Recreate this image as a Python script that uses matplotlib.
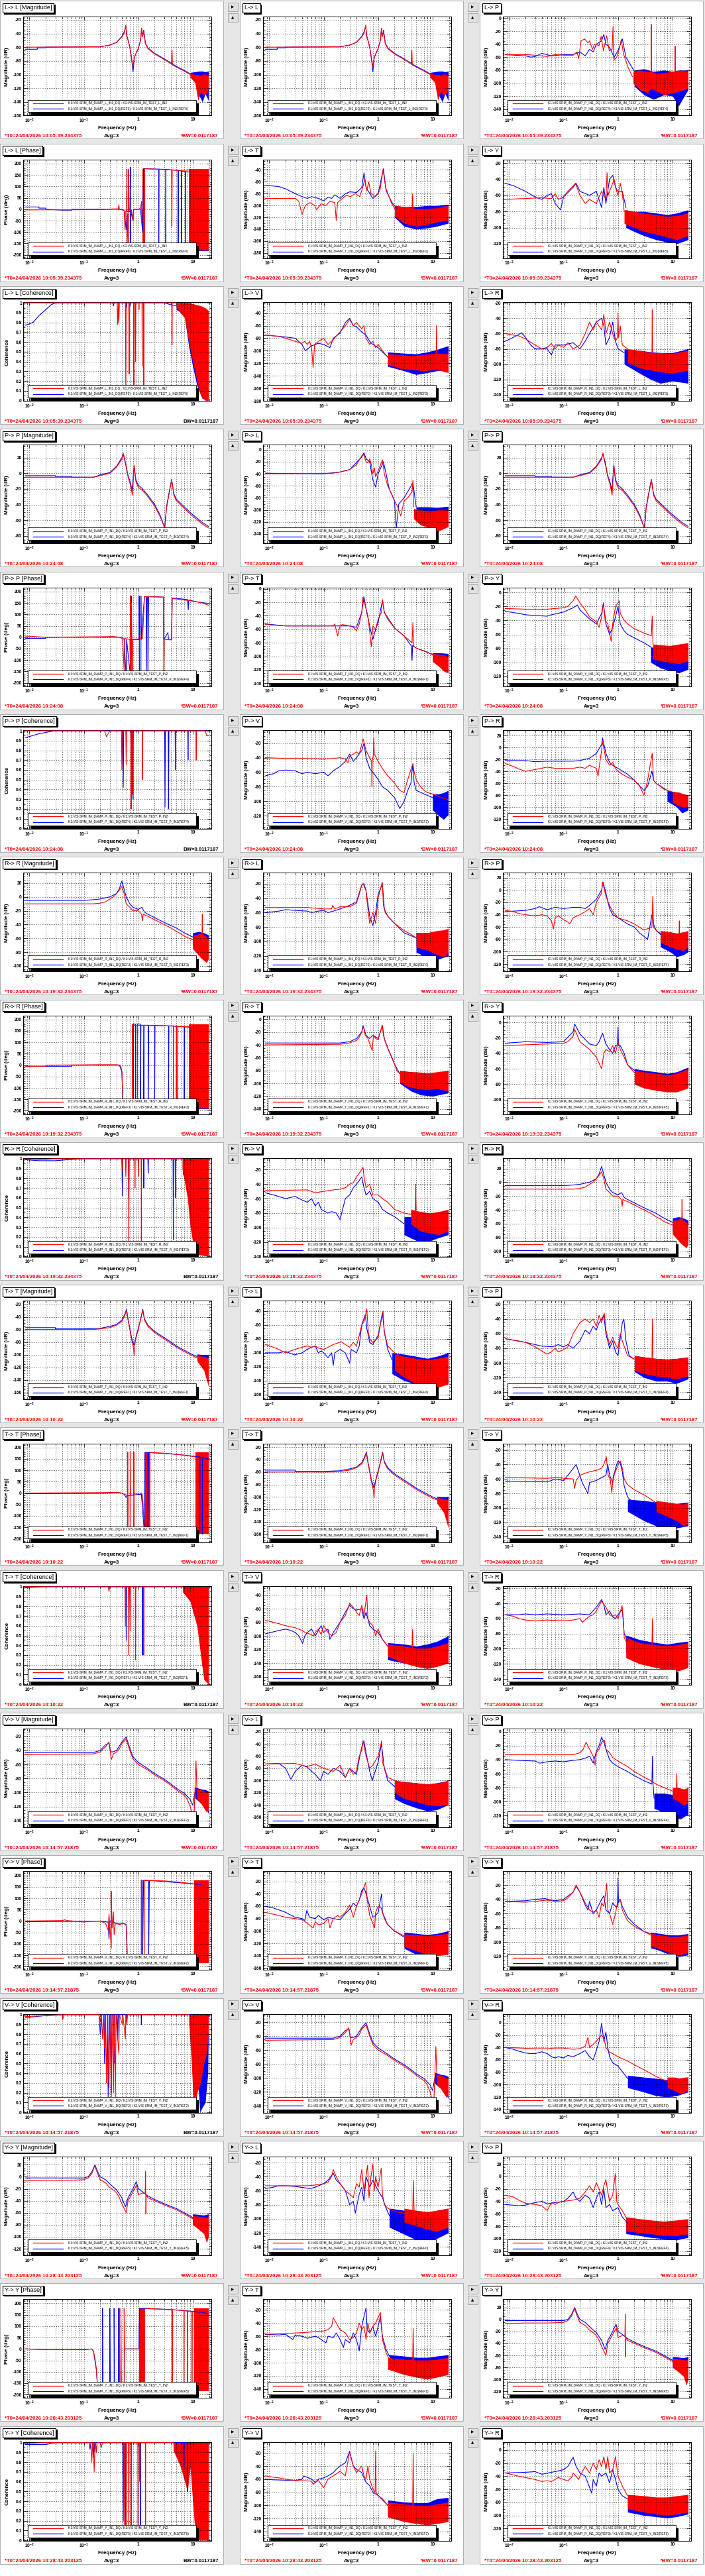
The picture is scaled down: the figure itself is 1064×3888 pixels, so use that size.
import matplotlib
matplotlib.use("Agg")
import matplotlib.pyplot as plt
from matplotlib.patches import Rectangle
from matplotlib.ticker import FixedLocator, FixedFormatter, AutoMinorLocator, NullFormatter
import numpy as np

plt.rcParams["font.family"] = ["Liberation Sans", "DejaVu Sans"]
plt.rcParams["mathtext.fontset"] = "custom"
plt.rcParams["mathtext.rm"] = "Liberation Sans"
plt.rcParams["mathtext.bf"] = "Liberation Sans:bold"

# ---------------------------------------------------------------- data
# each curve: (frequency Hz, value); None breaks a line
# *_RN / *_BN: noisy part drawn as band (frequency, low, high)

# L excitation
LL_MAG_R = [(0.0085,-60),(0.2,-59.5),(0.3,-57),(0.4,-53),(0.5,-45),(0.55,-40),(0.59,-28),(0.62,-45),(0.65,-50),(0.7,-60),(0.75,-75),(0.8,-88),(0.85,-75),(0.9,-70),(1.0,-62),(1.1,-50),(1.15,-32),(1.2,-45),(1.26,-37),(1.35,-55),(1.5,-62),(2,-70),(3,-78),(4.1,-85),(4.17,-64),(4.25,-86),(5,-89),(7,-95),(9,-100)]
LL_MAG_RN = [(9,-104,-98),(11,-112,-100),(12.5,-138,-100),(14,-125,-101),(16,-130,-99),(18,-128,-100),(19.4,-120,-100)]
LL_MAG_B = [(0.0085,-63),(0.014,-63),(0.014,-61),(0.02,-61),(0.02,-60),(0.2,-59.5),(0.3,-57),(0.4,-53),(0.5,-44),(0.55,-38),(0.59,-30),(0.62,-44),(0.65,-50),(0.7,-60),(0.75,-75),(0.8,-96),(0.85,-75),(0.9,-70),(1.0,-62),(1.1,-50),(1.15,-34),(1.2,-44),(1.26,-35),(1.35,-54),(1.5,-61),(2,-69),(3,-77),(4.1,-84),(5,-88),(7,-94),(9,-99)]
LL_MAG_BN = [(9,-104,-97),(11,-110,-96),(13,-130,-95),(15,-140,-95),(17,-128,-96),(19.4,-138,-95)]

LL_PH_R = [(0.0085,-3),(0.2,-2),(0.3,1),(0.43,2),(0.44,20),(0.45,0),(0.55,-5),(0.57,-90),(0.58,-10),(0.61,-10),(0.62,175),(0.62,-200),(0.64,-20),(0.66,-200),(0.66,175),(0.67,-10),(0.75,-5),(0.8,-50),(0.82,0),(1.0,0),(1.1,5),(1.15,35),(1.16,-60),(1.19,0),None,(1.33,178),(2,176),(4.1,172),(4.15,-75),(4.2,172),(6,170),(8.5,172)]
LL_PH_RN = [(1.19,-180,178),(1.33,-180,178),None,(8.5,-180,178),(19.4,-180,178)]
LL_PH_B = [(0.0085,10),(0.015,10),(0.015,5),(0.02,5),(0.02,0),(0.04,-4),(0.06,-4),(0.06,0),(0.5,0),(0.55,-5),(0.6,-90),(0.62,-10),(0.7,-10),(0.72,185),(0.72,-200),(0.73,-10),(0.8,-50),(0.82,0),(1.1,0),(1.2,-100),(1.25,178),(2.38,176),(2.38,-180),(2.4,176),(3.2,175),(3.2,-180),(3.22,175),(5.4,170),(5.4,-180),(5.45,170),(6.2,168),(6.2,-180),(6.25,168),(7.3,165),(7.3,-180),(7.35,165),(8.5,163)]
LL_PH_BN = [(8.5,-185,178),(19.4,-185,178)]

LL_COH_R = [(0.0085,1),(0.41,1),(0.42,0.78),(0.43,1),(0.44,0.8),(0.45,1),(0.58,1),(0.59,0.1),(0.6,1),(0.67,1),(0.68,0.27),(0.69,1),(0.82,1),(0.83,0.15),(0.84,1),(0.88,1),(0.89,0.4),(0.9,1),(1.02,1),(1.03,0.93),(1.04,1),(1.17,1),(1.18,0.35),(1.19,1),(1.25,1),(1.26,0.15),(1.27,1),(4.15,1),(4.17,0.57),(4.2,1),(5,1)]
LL_COH_RN = [(5,0.95,1),(7,0.85,1),(8.5,0.6,1),(10,0.4,0.99),(12,0.2,0.98),(14,0.05,0.97),(17,0.0,0.95),(19.4,0.0,0.92)]
LL_COH_B = [(0.0085,0.77),(0.0117,0.8),(0.015,0.87),(0.02,0.93),(0.025,0.98),(0.03,1),(0.34,1),(0.35,0.97),(0.36,1),(0.6,1),(0.61,0.95),(0.62,1),(0.7,1),(0.71,0.97),(0.72,1),(3,1),(4,0.98),(5,0.97)]
LL_COH_BN = [(5,0.93,1),(7,0.88,1),(8.5,0.55,1),(10,0.35,0.99),(12,0.15,0.97),(15,0.02,0.95),(19.4,0.0,0.9)]

LP_R = [(0.0085,-56),(0.02,-56),(0.03,-57),(0.05,-59),(0.07,-56),(0.1,-57),(0.15,-57),(0.176,-52),(0.19,-62),(0.21,-35),(0.245,-32),(0.28,-38),(0.3,-35),(0.34,-48),(0.37,-40),(0.45,-42),(0.49,-28),(0.54,-50),(0.62,-27),(0.69,-50),(0.78,-48),(0.81,-13),(0.83,-55),(0.85,-64),(0.95,-60),(1.05,-48),(1.15,-33),(1.26,-55),(1.52,-75),(1.84,-90),None,(4.05,-95),(4.1,-10),(4.15,-95),None,(11.1,-95),(11.2,-43),(11.3,-95)]
LP_RN = [(1.9,-100,-82),(2.5,-110,-80),(3.5,-115,-82),(4.1,-108,-82),(5,-112,-85),(7,-118,-84),(10,-115,-82),(14,-112,-80),(19.4,-108,-82)]
LP_B = [(0.0085,-56),(0.02,-58),(0.025,-60),(0.03,-59),(0.04,-54),(0.06,-58),(0.1,-56),(0.15,-56),(0.2,-52),(0.25,-58),(0.3,-48),(0.35,-52),(0.4,-40),(0.5,-35),(0.55,-25),(0.6,-40),(0.7,-45),(0.85,-60),(1.0,-50),(1.2,-32),(1.4,-60),(2,-82)]
LP_BN = [(2,-105,-80),(3,-118,-78),(4.5,-125,-82),(7,-118,-80),(10,-120,-82),(13,-135,-80),(19.4,-110,-80)]

LT_R = [(0.0085,-88),(0.03,-88),(0.035,-93),(0.04,-115),(0.046,-100),(0.056,-95),(0.068,-100),(0.074,-107),(0.09,-97),(0.11,-100),(0.13,-93),(0.16,-95),(0.17,-125),(0.18,-95),(0.19,-93),(0.26,-83),(0.31,-85),(0.38,-80),(0.46,-85),(0.52,-70),(0.57,-55),(0.62,-75),(0.67,-60),(0.74,-80),(0.89,-85),(1.08,-75),(1.23,-40),(1.38,-70),(1.74,-95),(2.1,-108),None,(4.2,-112),(4.3,-80),(4.4,-112)]
LT_RN = [(2,-118,-100),(3,-130,-102),(5,-135,-105),(8,-132,-105),(12,-128,-104),(19.4,-125,-100)]
LT_B = [(0.0085,-66),(0.015,-68),(0.02,-72),(0.03,-80),(0.04,-85),(0.05,-88),(0.06,-85),(0.08,-88),(0.1,-92),(0.12,-86),(0.14,-88),(0.16,-82),(0.2,-88),(0.25,-80),(0.3,-77),(0.4,-78),(0.5,-70),(0.55,-45),(0.6,-70),(0.8,-88),(1.0,-80),(1.25,-38),(1.4,-75),(1.8,-95),(2.2,-105)]
LT_BN = [(2,-120,-100),(3,-135,-102),(5,-140,-102),(8,-138,-100),(12,-135,-100),(19.4,-130,-98)]

LY_R = [(0.0085,-65),(0.04,-63),(0.06,-64),(0.07,-58),(0.08,-65),(0.1,-62),(0.12,-55),(0.166,-45),(0.2,-60),(0.25,-70),(0.3,-65),(0.4,-70),(0.5,-55),(0.6,-65),(0.63,-32),(0.66,-60),(0.7,-55),(0.8,-45),(0.85,-40),(0.9,-50),(1.0,-60),(1.1,-45),(1.2,-57),(1.3,-80)]
LY_RN = [(1.3,-95,-78),(2,-100,-80),(3,-105,-82),(5,-108,-84),(8,-112,-86),(12,-115,-85),(19.4,-110,-82)]
LY_B = [(0.0085,-45),(0.012,-48),(0.02,-55),(0.03,-62),(0.04,-65),(0.05,-60),(0.06,-58),(0.07,-70),(0.088,-78),(0.1,-62),(0.15,-50),(0.17,-45),(0.2,-55),(0.3,-60),(0.4,-55),(0.5,-75),(0.55,-50),(0.6,-70),(0.7,-40),(0.8,-35),(0.9,-50),(1.0,-55),(1.2,-55),(1.4,-75)]
LY_BN = [(1.4,-100,-78),(2,-105,-80),(3,-110,-80),(5,-115,-82),(8,-118,-84),(12,-120,-82),(19.4,-115,-78)]

LV_R = [(0.0085,-75),(0.015,-77),(0.02,-80),(0.03,-85),(0.04,-88),(0.045,-85),(0.05,-90),(0.055,-85),(0.06,-95),(0.064,-127),(0.068,-90),(0.08,-85),(0.1,-80),(0.12,-90),(0.15,-82),(0.2,-70),(0.25,-60),(0.3,-50),(0.35,-60),(0.4,-55),(0.5,-65),(0.55,-60),(0.6,-80),(0.7,-90),(0.8,-85),(0.9,-95),(1.0,-90),(1.2,-100),(1.5,-110),None,(11.6,-115),(11.8,-60),(12,-115)]
LV_RN = [(1.5,-122,-105),(2.5,-128,-106),(4,-130,-108),(7,-132,-106),(12,-130,-104),(19.4,-135,-105)]
LV_B = [(0.0085,-75),(0.015,-77),(0.02,-78),(0.03,-80),(0.04,-90),(0.046,-100),(0.06,-92),(0.07,-90),(0.08,-88),(0.1,-90),(0.13,-95),(0.15,-80),(0.2,-72),(0.25,-55),(0.3,-48),(0.35,-60),(0.4,-62),(0.5,-70),(0.6,-75),(0.7,-85),(0.8,-90),(1.0,-95),(1.3,-105),(1.5,-110)]
LV_BN = [(1.5,-125,-102),(3,-132,-104),(5,-138,-105),(8,-135,-102),(12,-132,-98),(19.4,-130,-92)]

LR_R = [(0.0085,-60),(0.012,-62),(0.015,-63),(0.02,-67),(0.03,-75),(0.04,-80),(0.05,-78),(0.06,-73),(0.07,-80),(0.08,-75),(0.1,-78),(0.12,-72),(0.15,-80),(0.2,-75),(0.25,-60),(0.3,-45),(0.35,-55),(0.4,-45),(0.5,-55),(0.55,-35),(0.6,-60),(0.7,-45),(0.8,-60),(0.9,-70),(0.98,-65),(1.0,-33),(1.02,-65),(1.1,-50),(1.2,-75),(1.5,-80),None,(4.2,-95),(4.26,-29),(4.32,-95)]
LR_RN = [(1.5,-98,-80),(2.5,-105,-82),(4,-108,-85),(6,-110,-85),(10,-112,-86),(19.4,-108,-82)]
LR_B = [(0.0085,-70),(0.012,-65),(0.017,-59),(0.02,-65),(0.025,-75),(0.03,-80),(0.05,-80),(0.06,-88),(0.07,-75),(0.1,-75),(0.15,-72),(0.2,-80),(0.25,-70),(0.3,-60),(0.4,-45),(0.5,-40),(0.55,-50),(0.6,-75),(0.7,-65),(0.8,-45),(0.9,-70),(1.0,-80),(1.3,-85)]
LR_BN = [(1.3,-100,-80),(2.5,-112,-82),(4,-120,-84),(6,-125,-85),(10,-122,-85),(19.4,-125,-80)]

# P excitation
PP_MAG_R = [(0.0085,-5),(0.15,-5),(0.2,-3),(0.3,0),(0.4,8),(0.5,18),(0.53,26),(0.6,10),(0.65,-5),(0.72,-15),(0.78,-28),(0.84,10),(0.9,-10),(1.0,-18),(1.2,-22),(1.5,-30),(2,-42),(2.5,-55),(3.07,-70),(3.3,-45),(3.6,-30),(4.1,-8),(4.5,-28),(5,-35),(7,-45),(10,-55),(15,-65),(19.4,-70)]
PP_MAG_B = [(0.0085,-3),(0.03,-3),(0.03,-4),(0.06,-4),(0.06,-5),(0.15,-5),(0.2,-2),(0.3,1),(0.4,9),(0.5,20),(0.53,25),(0.6,8),(0.65,-3),(0.72,-12),(0.77,-22),(0.84,10),(0.9,-8),(1.0,-15),(1.2,-20),(1.5,-28),(2,-40),(2.5,-53),(3.05,-70),(3.3,-43),(3.6,-28),(4.1,-8),(4.5,-26),(5,-33),(7,-43),(10,-53),(15,-63),(19.4,-68)]

PL_R = [(0.0085,-40),(0.15,-39),(0.2,-37),(0.3,-33),(0.4,-25),(0.5,-10),(0.54,-8),(0.6,-20),(0.65,-22),(0.7,-15),(0.75,-25),(0.8,-40),(0.85,-30),(0.9,-45),(1.0,-35),(1.2,-17),(1.3,-40),(1.5,-60),(1.8,-75),(2,-85),(2.3,-95),(2.6,-110),(3,-85),(3.5,-80),(4.2,-70),(4.35,-51),(4.5,-95)]
PL_RN = [(4.5,-115,-98),(6,-125,-100),(9,-130,-102),(13,-135,-100),(19.4,-128,-100)]
PL_B = [(0.0085,-39),(0.1,-40),(0.2,-37),(0.3,-33),(0.5,-12),(0.55,-5),(0.6,-15),(0.7,-20),(0.8,-50),(0.9,-62),(1.0,-40),(1.25,-20),(1.4,-40),(1.6,-65),(2,-85),(2.15,-130),(2.4,-90),(3,-80),(4.35,-55),(5,-95)]
PL_BN = [(5,-108,-95),(8,-112,-95),(12,-115,-96),(19.4,-112,-94)]

PP_PH_R = [(0.0085,5),(0.012,3),(0.02,0),(0.2,2),(0.35,3),(0.45,0),(0.5,-5),(0.52,-20),(0.55,-150),(0.56,-5),(0.7,-10),(0.72,-200),(0.72,180),(0.74,-200),(0.75,150),(0.76,-10),(0.78,-200),(0.79,-10),(1.2,-5),(1.3,178),(2.9,176),(2.95,-200),(3.0,-10),(4.1,-12),(4.2,170),(6,165),(10,158),(15,150),(19.4,140)]
PP_PH_B = [(0.0085,-5),(0.02,-5),(0.02,0),(0.5,0),(0.55,-10),(0.6,-180),(0.61,-10),(0.74,-200),(0.74,180),(0.76,-10),(1.04,-10),(1.04,180),(1.05,-180),(1.12,-180),(1.12,180),(1.13,-10),(1.3,178),(1.4,178),(1.4,-180),(1.45,178),(1.5,178),(1.5,-180),(1.55,178),(2.9,176),(2.95,-10),(3.5,20),(3.6,-10),(4.1,-10),(4.2,172),(8,165),(8.3,120),(8.4,163),(12,155),(19.4,148)]

PT_R = [(0.0085,-53),(0.02,-55),(0.15,-55),(0.16,-52),(0.18,-70),(0.2,-55),(0.22,-53),(0.3,-55),(0.35,-57),(0.4,-62),(0.45,-52),(0.5,-35),(0.53,-12),(0.6,-30),(0.65,-40),(0.75,-86),(0.8,-55),(0.9,-60),(1.0,-45),(1.15,-35),(1.2,-16),(1.3,-35),(1.5,-45),(2,-58),(3,-70),(4.2,-80),(4.35,-50),(4.5,-85),(5,-88),(7,-92),(10,-98)]
PT_RN = [(10,-108,-96),(13,-115,-97),(16,-122,-98),(19.4,-125,-100)]
PT_B = [(0.0085,-52),(0.02,-55),(0.3,-55),(0.4,-57),(0.5,-35),(0.55,-12),(0.6,-30),(0.7,-55),(0.8,-75),(0.9,-60),(1.0,-50),(1.2,-17),(1.3,-35),(2,-58),(3,-70),(4.1,-85),(4.2,-106),(4.3,-84),(5,-88),(10,-97)]
PT_BN = [(10,-105,-95),(14,-112,-95),(19.4,-118,-96)]

PY_R = [(0.0085,-23),(0.02,-24),(0.05,-24),(0.1,-22),(0.12,-20),(0.15,-12),(0.167,-5),(0.2,-15),(0.25,-25),(0.3,-35),(0.4,-42),(0.45,-50),(0.5,-35),(0.54,-15),(0.58,-40),(0.65,-45),(0.75,-70),(0.8,-45),(0.9,-20),(1.06,-12),(1.1,-30),(1.3,-40),(1.5,-45),(2,-52),(3,-58),(4.1,-62),(4.25,-34),(4.4,-75)]
PY_RN = [(4.4,-95,-74),(6,-98,-75),(9,-100,-76),(13,-102,-74),(19.4,-98,-72)]
PY_B = [(0.0085,-27),(0.015,-30),(0.02,-32),(0.03,-33),(0.05,-34),(0.06,-32),(0.1,-28),(0.15,-22),(0.18,-18),(0.2,-25),(0.3,-38),(0.4,-45),(0.5,-30),(0.54,-15),(0.6,-45),(0.7,-60),(0.8,-50),(0.9,-35),(1.0,-20),(1.1,-45),(1.3,-55),(1.5,-60),(2,-65),(3,-72),(4,-78)]
PY_BN = [(4,-100,-78),(6,-108,-80),(9,-112,-82),(13,-115,-80),(19.4,-110,-78)]

PP_COH_R = [(0.0085,1),(0.24,1),(0.26,0.94),(0.28,0.97),(0.3,1),(0.49,1),(0.5,0.6),(0.51,1),(0.59,1),(0.6,0.65),(0.61,1),(0.73,1),(0.74,0.2),(0.75,1),(0.77,1),(0.78,0.35),(0.79,1),(1.18,1),(1.19,0.5),(1.2,1),(11.5,1),(11.6,0.7),(11.7,1),(17,1),(18,0.95),(19.4,0.95)]
PP_COH_B = [(0.0085,0.93),(0.015,0.97),(0.029,1),(0.52,1),(0.53,0.42),(0.54,1),(0.73,1),(0.74,0.22),(0.75,1),(0.79,1),(0.8,0.3),(0.81,1),(3.05,1),(3.1,0.22),(3.15,1),(3.55,1),(3.6,0.2),(3.65,1),(4.75,1),(4.8,0.6),(4.85,1),(8.1,1),(8.2,0.7),(8.3,1),(19.4,1)]

PV_R = [(0.0085,-40),(0.02,-41),(0.05,-41),(0.1,-42),(0.15,-41),(0.2,-40),(0.25,-42),(0.28,-47),(0.3,-38),(0.35,-35),(0.4,-32),(0.45,-35),(0.53,-14),(0.6,-30),(0.7,-40),(0.76,-45),(0.77,-79),(0.78,-45),(0.82,-35),(0.83,-13),(0.85,-35),(1.0,-45),(1.2,-55),(1.5,-65),(2,-75),(2.5,-85),(3,-88),(3.5,-70),(4.35,-48),(4.6,-60),(5,-70),(6,-80),(7,-85),(8,-88),(10,-90),(15,-95),(19.4,-98)]
PV_B = [(0.0085,-65),(0.012,-62),(0.015,-58),(0.02,-57),(0.03,-58),(0.04,-62),(0.05,-60),(0.07,-62),(0.1,-60),(0.12,-65),(0.15,-58),(0.2,-52),(0.25,-45),(0.3,-35),(0.35,-45),(0.4,-40),(0.5,-30),(0.55,-20),(0.6,-40),(0.7,-55),(0.8,-60),(1.0,-70),(1.2,-80),(1.5,-85),(2,-95),(2.5,-110),(3,-100),(3.5,-85),(4,-75),(4.3,-50),(4.6,-75),(5,-85),(7,-90),(10,-95)]
PV_BN = [(10,-112,-90),(13,-120,-90),(16,-125,-88),(19.4,-118,-85)]

PR_R = [(0.0085,-27),(0.012,-32),(0.015,-36),(0.02,-40),(0.03,-37),(0.05,-33),(0.07,-35),(0.15,-35),(0.2,-33),(0.25,-35),(0.3,-30),(0.4,-35),(0.43,-48),(0.46,-28),(0.5,-5),(0.52,10),(0.6,-20),(0.7,-30),(0.8,-25),(0.9,-35),(1.0,-40),(1.2,-45),(1.5,-50),(2,-55),(2.5,-65),(3.0,-80),(3.5,-55),(4.25,-10),(4.5,-55),(5,-60),(7,-70),(10,-75)]
PR_RN = [(10,-92,-74),(13,-98,-75),(16,-100,-78),(19.4,-100,-80)]
PR_B = [(0.0085,-22),(0.02,-22),(0.03,-24),(0.05,-23),(0.15,-23),(0.2,-22),(0.3,-18),(0.4,-10),(0.5,5),(0.52,16),(0.6,-10),(0.7,-25),(0.8,-30),(1.0,-35),(1.5,-45),(2,-55),(3,-72),(3.5,-65),(4.2,-40),(4.5,-55),(5,-60),(8,-72)]
PR_BN = [(8,-90,-72),(12,-100,-75),(15,-110,-78),(19.4,-105,-80)]

# R excitation
RR_MAG_R = [(0.0085,-10),(0.15,-10),(0.2,-9),(0.25,-7),(0.3,-3),(0.35,0),(0.4,5),(0.45,10),(0.5,15),(0.55,5),(0.6,-10),(0.7,-15),(0.8,-20),(1.0,-20),(1.15,-25),(1.19,-35),(1.23,-25),(1.5,-28),(2,-33),(3,-40),(4,-45),(5,-50),(6,-53),(7,-57),(10,-62),None,(14.8,-60),(15,-25),(15.2,-60)]
RR_MAG_RN = [(10,-75,-55),(12,-82,-55),(14,-88,-52),(16,-92,-55),(18,-95,-58),(19.4,-90,-60)]
RR_MAG_B = [(0.0085,-5),(0.1,-5),(0.15,-4),(0.2,-3),(0.3,0),(0.4,5),(0.45,12),(0.5,23),(0.6,0),(0.7,-10),(0.8,-15),(1.0,-18),(1.16,-15),(1.3,-22),(1.5,-25),(2,-30),(3,-37),(5,-45),(7,-52),(10,-58)]
RR_MAG_BN = [(10,-70,-52),(13,-78,-50),(16,-85,-52),(19.4,-85,-55)]

RL_R = [(0.0085,-53),(0.05,-53),(0.1,-55),(0.14,-55),(0.146,-50),(0.16,-55),(0.2,-52),(0.3,-52),(0.4,-47),(0.45,-35),(0.5,-22),(0.53,-20),(0.6,-30),(0.65,-55),(0.7,-75),(0.8,-60),(0.9,-75),(1.0,-40),(1.19,-18),(1.25,-50),(1.35,-60),(1.5,-65),(2,-75),(3,-85),(4,-90),(5,-95)]
RL_RN = [(5,-108,-88),(8,-112,-88),(12,-118,-85),(16,-122,-84),(19.4,-115,-82)]
RL_B = [(0.0085,-60),(0.015,-58),(0.02,-56),(0.03,-57),(0.05,-58),(0.06,-60),(0.08,-58),(0.1,-57),(0.12,-60),(0.15,-58),(0.2,-55),(0.3,-50),(0.4,-45),(0.5,-22),(0.55,-20),(0.6,-30),(0.7,-65),(0.8,-78),(0.9,-60),(1.0,-35),(1.2,-20),(1.3,-55),(1.5,-65),(2,-75),(3,-88),(5,-95)]
RL_BN = [(5,-115,-88),(8,-122,-88),(12,-125,-86),(19.4,-120,-84)]

RP_R = [(0.0085,-33),(0.012,-35),(0.015,-38),(0.02,-40),(0.03,-42),(0.04,-40),(0.05,-42),(0.06,-50),(0.065,-63),(0.07,-45),(0.08,-42),(0.1,-48),(0.12,-52),(0.13,-55),(0.15,-45),(0.2,-40),(0.25,-35),(0.3,-30),(0.35,-40),(0.4,-20),(0.5,-5),(0.52,13),(0.6,-10),(0.7,-25),(0.8,-35),(1.0,-45),(1.5,-50),(2,-55),(3,-65),(4.2,-60),(4.35,-10),(4.5,-60),(5,-65),(6,-70),None,(13.2,-75),(13.4,-50),(13.6,-75)]
RP_RN = [(6,-85,-66),(9,-92,-68),(12,-96,-70),(16,-98,-68),(19.4,-92,-66)]
RP_B = [(0.0085,-35),(0.02,-33),(0.03,-30),(0.036,-27),(0.05,-32),(0.07,-28),(0.1,-30),(0.15,-28),(0.2,-28),(0.25,-30),(0.3,-25),(0.4,-15),(0.5,0),(0.53,13),(0.6,-5),(0.7,-30),(0.8,-40),(1.0,-45),(1.5,-55),(2,-60),(2.5,-70),(3,-75),(3.5,-80),(4.2,-40),(4.5,-55),(5,-65),(6,-72)]
RP_BN = [(6,-92,-66),(9,-100,-68),(12,-108,-70),(16,-105,-68),(19.4,-100,-66)]

RR_PH_R = [(0.0085,-5),(0.02,-5),(0.02,0),(0.2,2),(0.4,2),(0.46,0),(0.48,-5),(0.5,-30),(0.52,-150),(0.53,-190),(0.78,-190),(0.78,180),(0.8,-190),(0.8,175),(4.4,172),(4.4,-190),(4.45,172),(5.0,170),(5.0,-190),(5.05,170),(5.3,170),(5.3,-190),(5.35,170),(8.5,168)]
RR_PH_RN = [(8.5,-190,178),(19.4,-190,178)]
RR_PH_B = [(0.0085,-5),(0.06,-5),(0.06,0),(0.45,0),(0.5,-30),(0.52,-150),(0.53,-190),(0.82,-190),(0.82,180),(0.89,180),(0.89,-190),(0.96,-190),(0.96,180),(1.1,180),(1.1,-190),(1.12,175),(1.26,175),(1.26,-190),(1.28,175),(1.52,175),(1.52,-190),(1.55,175),(2.0,174),(2.0,-190),(2.03,174),(3.6,172),(3.6,-190),(3.65,172),(7,168),(7,-190),(7.05,168),(8.8,166)]
RR_PH_BN = [(8.8,-192,178),(19.4,-192,178)]

RT_R = [(0.0085,-40),(0.2,-39),(0.3,-37),(0.4,-33),(0.45,-28),(0.5,-20),(0.54,-11),(0.58,-25),(0.65,-30),(0.78,-49),(0.82,-25),(0.9,-30),(1.0,-32),(1.19,-9),(1.25,-25),(1.35,-35),(1.5,-45),(1.8,-60),(2,-70),(2.2,-80),(2.5,-85)]
RT_RN = [(2.5,-98,-80),(3.5,-105,-82),(5,-108,-82),(8,-110,-84),(12,-108,-82),(19.4,-112,-80)]
RT_B = [(0.0085,-37),(0.2,-37),(0.3,-35),(0.4,-30),(0.5,-20),(0.53,-10),(0.6,-25),(0.7,-30),(0.8,-25),(1.0,-30),(1.2,-10),(1.3,-30),(1.5,-45),(2,-70),(2.5,-85)]
RT_BN = [(2.5,-100,-80),(4,-112,-82),(6,-118,-84),(10,-120,-84),(19.4,-115,-82)]

RY_R = [(0.0085,-30),(0.02,-29),(0.05,-28),(0.1,-27),(0.12,-25),(0.15,-18),(0.16,-9),(0.2,-25),(0.3,-35),(0.4,-45),(0.5,-60),(0.55,-40),(0.6,-35),(0.7,-38),(0.8,-30),(0.9,-40),(1.0,-25),(1.1,-35),(1.3,-45),(1.5,-55),(2,-65)]
RY_RN = [(2,-80,-62),(3,-85,-64),(5,-88,-66),(8,-90,-68),(12,-90,-66),(19.4,-85,-60)]
RY_B = [(0.0085,-27),(0.02,-25),(0.05,-26),(0.1,-25),(0.15,-12),(0.16,-2),(0.2,-15),(0.3,-28),(0.4,-30),(0.45,-25),(0.52,-14),(0.6,-28),(0.7,-35),(0.8,-40),(0.9,-30),(0.98,-30),(1.0,-6),(1.02,-30),(1.1,-30),(1.3,-40),(1.5,-55),(2,-62)]
RY_BN = [(2,-78,-60),(3,-84,-62),(5,-86,-64),(8,-88,-66),(12,-88,-64),(19.4,-82,-58)]

RR_COH_R = [(0.0085,1),(0.015,0.99),(0.03,1),(0.5,1),(0.51,0.88),(0.52,1),(0.58,1),(0.59,0.82),(0.6,1),(0.66,1),(0.67,0.06),(0.68,1),(0.86,1),(0.87,0.7),(0.88,1),(0.99,1),(1.0,0.82),(1.01,1),(1.13,1),(1.14,0.06),(1.15,1),(6.4,1)]
RR_COH_RN = [(6.4,0.9,1),(8,0.6,1),(9,0.3,1),(10,0.15,1),(12,0.02,1),(19.4,0.0,1)]
RR_COH_B = [(0.0085,0.99),(0.015,0.98),(0.03,0.98),(0.05,0.99),(0.1,1),(0.5,1),(0.51,0.62),(0.52,1),(0.66,1),(0.67,0.6),(0.68,1),(1.25,1),(1.26,0.7),(1.27,1),(1.5,1),(1.52,0.85),(1.54,1),(4.35,1),(4.4,0.17),(4.45,1),(4.75,1),(4.8,0.6),(4.85,1),(6.4,1)]
RR_COH_BN = [(6.5,0.85,1),(10,0.6,1),(14,0.5,1),(18,0.6,1),(19.4,0.85,1)]

RV_R = [(0.0085,-49),(0.05,-48),(0.07,-52),(0.1,-50),(0.15,-48),(0.2,-47),(0.25,-45),(0.3,-40),(0.35,-38),(0.4,-30),(0.45,-25),(0.53,-17),(0.55,-30),(0.6,-45),(0.7,-40),(0.8,-55),(1.0,-55),(1.2,-60),(1.5,-65),(2,-75),(3,-80),(4,-82),None,(4.8,-85),(4.9,-40),(5.0,-85)]
RV_RN = [(4,-95,-75),(6,-105,-78),(9,-108,-80),(13,-110,-78),(19.4,-105,-75)]
RV_B = [(0.0085,-52),(0.012,-55),(0.02,-60),(0.03,-57),(0.04,-62),(0.05,-65),(0.06,-60),(0.07,-70),(0.08,-65),(0.09,-75),(0.12,-80),(0.14,-78),(0.17,-80),(0.2,-89),(0.25,-60),(0.3,-55),(0.35,-45),(0.4,-40),(0.45,-35),(0.5,-30),(0.55,-45),(0.6,-55),(0.7,-50),(0.8,-60),(1.0,-65),(1.2,-75),(1.5,-80),(2,-85),(3,-95)]
RV_BN = [(3,-110,-85),(5,-118,-85),(8,-120,-82),(12,-115,-80),(19.4,-110,-75)]

# T excitation
TT_MAG_R = [(0.0085,-60),(0.15,-60),(0.2,-59),(0.3,-57),(0.4,-53),(0.5,-47),(0.55,-40),(0.61,-30),(0.65,-45),(0.7,-60),(0.75,-75),(0.82,-90),(0.84,-101),(0.86,-85),(0.9,-75),(1.0,-60),(1.1,-45),(1.21,-30),(1.3,-45),(1.5,-55),(2,-65),(3,-75),(4,-82),(5,-88),(7,-95),(10,-102),(12,-105)]
TT_MAG_RN = [(12,-110,-100),(14,-118,-102),(16,-125,-103),(18,-140,-104),(19.4,-150,-105)]
TT_MAG_B = [(0.0085,-57),(0.03,-57),(0.03,-59),(0.1,-59),(0.2,-58),(0.3,-55),(0.4,-52),(0.5,-45),(0.55,-38),(0.61,-28),(0.65,-44),(0.7,-58),(0.75,-72),(0.83,-85),(0.9,-73),(1.0,-58),(1.1,-44),(1.21,-28),(1.3,-43),(1.5,-53),(2,-63),(3,-73),(4,-80),(5,-86),(7,-93),(10,-100),(12,-103)]
TT_MAG_BN = [(12,-108,-99),(15,-112,-100),(18,-118,-100),(19.4,-120,-100)]

TL_R = [(0.0085,-88),(0.012,-92),(0.015,-95),(0.02,-100),(0.025,-97),(0.03,-95),(0.04,-92),(0.05,-90),(0.06,-92),(0.07,-90),(0.08,-93),(0.1,-95),(0.12,-92),(0.15,-88),(0.21,-84),(0.25,-88),(0.3,-92),(0.35,-85),(0.4,-90),(0.45,-75),(0.5,-60),(0.55,-55),(0.62,-37),(0.66,-70),(0.7,-80),(0.8,-85),(1.0,-78),(1.1,-60),(1.23,-40),(1.3,-70),(1.5,-90),(2,-100),(3,-108)]
TL_RN = [(2,-125,-102),(3,-135,-105),(5,-145,-108),(8,-148,-110),(12,-150,-108),(19.4,-145,-105)]
TL_B = [(0.0085,-100),(0.015,-100),(0.02,-98),(0.029,-103),(0.04,-100),(0.05,-95),(0.06,-92),(0.07,-90),(0.08,-100),(0.09,-97),(0.1,-100),(0.12,-107),(0.14,-100),(0.15,-118),(0.16,-100),(0.2,-95),(0.25,-100),(0.3,-115),(0.32,-95),(0.4,-100),(0.45,-90),(0.5,-60),(0.58,-45),(0.62,-65),(0.7,-85),(0.8,-88),(1.0,-75),(1.2,-42),(1.3,-70),(1.5,-95),(1.8,-110)]
TL_BN = [(1.8,-130,-100),(3,-140,-102),(5,-145,-105),(8,-148,-108),(12,-145,-105),(19.4,-140,-100)]

TP_R = [(0.0085,-67),(0.015,-70),(0.02,-72),(0.03,-78),(0.049,-88),(0.06,-85),(0.07,-80),(0.08,-85),(0.1,-82),(0.12,-78),(0.15,-60),(0.2,-45),(0.25,-40),(0.3,-45),(0.35,-40),(0.4,-50),(0.45,-35),(0.5,-45),(0.56,-32),(0.6,-55),(0.7,-75),(0.8,-65),(0.9,-75),(1.0,-80),(1.1,-60),(1.2,-70),(1.5,-90),(2,-95),None,(4.2,-100),(4.3,-40),(4.4,-100)]
TP_RN = [(2,-110,-90),(3,-115,-92),(5,-118,-94),(8,-120,-95),(12,-122,-94),(19.4,-118,-92)]
TP_B = [(0.0085,-67),(0.02,-72),(0.03,-75),(0.04,-77),(0.063,-78),(0.08,-75),(0.1,-78),(0.12,-75),(0.15,-80),(0.2,-70),(0.25,-55),(0.3,-60),(0.35,-50),(0.4,-55),(0.45,-45),(0.5,-40),(0.55,-35),(0.6,-60),(0.7,-80),(0.8,-70),(0.9,-85),(1.0,-90),(1.2,-45),(1.28,-40),(1.4,-70),(1.6,-90),(2,-95)]
TP_BN = [(2,-112,-90),(3,-120,-92),(5,-125,-94),(8,-125,-95),(12,-128,-94),(19.4,-122,-92)]

TT_PH_R = [(0.0085,0),(0.2,2),(0.4,3),(0.5,0),(0.55,-5),(0.64,-10),(0.64,180),(0.64,-180),(0.65,-10),(0.71,-10),(0.71,-180),(0.71,180),(0.72,-10),(0.83,-10),(0.83,180),(0.83,-180),(0.84,0),(1.14,0),(1.2,-10),(1.3,-180),None,(1.65,178),(3,175),(6,168),(10.3,160),(11.3,158)]
TT_PH_RN = [(1.3,-180,178),(1.65,-180,178),None,(11.3,-180,178),(19.4,-180,178)]
TT_PH_B = [(0.0085,-3),(0.2,-1),(0.4,2),(0.5,0),(0.55,-5),(0.6,-20),(0.62,-10),(1.14,-5),(1.3,-180),(1.33,178),(1.5,178),(1.5,-180),(1.55,178),(5,170),(10,162),(13.5,158),(13.5,-180),(13.6,158),(15,155),(15,-180),(15.1,155),(19.4,150)]

TY_R = [(0.0085,-58),(0.05,-59),(0.08,-58),(0.1,-59),(0.15,-60),(0.16,-73),(0.17,-62),(0.2,-55),(0.25,-52),(0.3,-50),(0.4,-48),(0.5,-45),(0.55,-40),(0.61,-29),(0.66,-55),(0.72,-60),(0.77,-79),(0.82,-55),(0.9,-50),(1.0,-40),(1.1,-35),(1.2,-45),(1.3,-60),(1.5,-68),(2,-75),(3,-82),(4,-88),(5,-93)]
TY_RN = [(5,-105,-90),(8,-112,-92),(12,-118,-94),(16,-125,-95),(19.4,-122,-92)]
TY_B = [(0.0085,-63),(0.05,-64),(0.06,-62),(0.07,-60),(0.1,-62),(0.12,-55),(0.17,-40),(0.2,-55),(0.22,-65),(0.28,-80),(0.3,-65),(0.4,-62),(0.5,-58),(0.6,-55),(0.65,-40),(0.7,-55),(0.8,-65),(0.9,-45),(1.0,-35),(1.1,-38),(1.2,-50),(1.3,-70),(1.5,-85),(2,-95)]
TY_BN = [(1.5,-105,-88),(3,-118,-90),(5,-125,-92),(8,-130,-95),(12,-128,-94),(19.4,-125,-92)]

TT_COH_R = [(0.0085,1),(0.28,1),(0.29,0.95),(0.3,1),(0.57,1),(0.58,0.6),(0.59,1),(0.66,1),(0.67,0.3),(0.68,1),(0.7,1),(0.71,0.55),(0.72,1),(0.88,1),(0.89,0.25),(0.9,1),(1.25,1),(1.26,0.3),(1.27,1),(6.5,1)]
TT_COH_RN = [(6.5,0.95,1),(9,0.85,1),(12,0.6,1),(14,0.3,1),(16,0.05,1),(19.4,0.0,1)]
TT_COH_B = [(0.0085,0.99),(0.02,1),(0.59,1),(0.6,0.45),(0.61,1),(1.18,1),(1.19,0.3),(1.2,1),(6.5,1)]
TT_COH_BN = [(6.5,0.95,1),(9,0.85,1),(12,0.6,1),(14,0.4,1),(16,0.2,1),(18,0.5,1),(19.4,0.7,1)]

TV_R = [(0.0085,-77),(0.012,-80),(0.015,-82),(0.02,-85),(0.03,-88),(0.04,-92),(0.046,-95),(0.055,-97),(0.065,-100),(0.07,-95),(0.08,-90),(0.09,-98),(0.1,-85),(0.12,-95),(0.14,-100),(0.17,-95),(0.2,-80),(0.25,-70),(0.3,-52),(0.35,-58),(0.4,-65),(0.45,-70),(0.5,-55),(0.55,-70),(0.62,-40),(0.65,-75),(0.7,-80),(0.8,-85),(0.9,-100),(1.0,-90),(1.2,-105),(1.5,-115),None,(4.2,-125),(4.3,-90),(4.4,-125)]
TV_RN = [(1.5,-130,-112),(3,-140,-115),(5,-145,-118),(8,-148,-118),(12,-145,-115),(19.4,-140,-110)]
TV_B = [(0.0085,-97),(0.012,-94),(0.015,-92),(0.02,-90),(0.025,-92),(0.03,-95),(0.035,-100),(0.041,-111),(0.045,-100),(0.05,-95),(0.06,-90),(0.07,-100),(0.08,-92),(0.09,-85),(0.1,-95),(0.12,-90),(0.13,-105),(0.15,-95),(0.2,-80),(0.25,-65),(0.3,-55),(0.35,-60),(0.4,-62),(0.5,-60),(0.55,-75),(0.6,-65),(0.7,-85),(0.8,-90),(1.0,-95),(1.2,-105),(1.5,-115)]
TV_BN = [(1.5,-135,-110),(3,-140,-112),(5,-142,-115),(8,-145,-112),(12,-140,-108),(19.4,-135,-100)]

TR_R = [(0.0085,-55),(0.012,-57),(0.015,-60),(0.02,-62),(0.03,-63),(0.05,-62),(0.1,-63),(0.15,-62),(0.2,-60),(0.22,-65),(0.3,-57),(0.35,-55),(0.4,-50),(0.5,-37),(0.6,-45),(0.7,-55),(0.8,-57),(0.9,-55),(1.0,-60),(1.19,-43),(1.25,-60),(1.3,-85),(1.5,-95),None,(4.2,-100),(4.3,-60),(4.4,-100)]
TR_RN = [(1.4,-112,-85),(2.5,-120,-92),(5,-125,-95),(8,-128,-96),(12,-130,-95),(19.4,-125,-92)]
TR_B = [(0.0085,-55),(0.015,-55),(0.02,-54),(0.03,-55),(0.05,-54),(0.1,-55),(0.2,-54),(0.3,-55),(0.4,-45),(0.5,-35),(0.55,-42),(0.6,-55),(0.7,-50),(0.8,-58),(0.9,-60),(1.0,-55),(1.2,-48),(1.3,-80),(1.5,-90)]
TR_BN = [(1.4,-105,-82),(2.5,-115,-88),(5,-120,-92),(8,-122,-94),(12,-125,-92),(19.4,-120,-90)]

# V excitation
VV_MAG_R = [(0.0085,-46),(0.15,-45),(0.2,-42),(0.25,-35),(0.29,-28),(0.31,-45),(0.32,-53),(0.35,-45),(0.4,-42),(0.45,-38),(0.5,-30),(0.6,-24),(0.7,-40),(0.8,-52),(1.0,-60),(1.5,-68),(2,-75),(3,-83),(4,-90),(5,-96),(7,-104),(8,-110),(9,-120),(10.5,-140),(11.5,-55),(12,-100)]
VV_MAG_RN = [(12,-110,-95),(14,-115,-96),(16,-122,-98),(18,-128,-100),(19.4,-125,-100)]
VV_MAG_B = [(0.0085,-43),(0.15,-43),(0.2,-40),(0.25,-32),(0.29,-30),(0.31,-42),(0.35,-42),(0.4,-40),(0.5,-28),(0.6,-21),(0.7,-37),(0.8,-49),(1.0,-57),(1.5,-66),(2,-73),(3,-81),(4,-88),(5,-94),(7,-101),(9,-110),(10,-118),(11,-100)]
VV_MAG_BN = [(11,-108,-92),(14,-115,-95),(17,-120,-96),(19.4,-130,-98)]

VL_R = [(0.0085,-73),(0.03,-72),(0.04,-75),(0.05,-77),(0.06,-75),(0.07,-73),(0.08,-76),(0.1,-80),(0.15,-85),(0.2,-75),(0.25,-95),(0.3,-80),(0.35,-90),(0.4,-85),(0.45,-60),(0.5,-50),(0.53,-35),(0.6,-60),(0.65,-70),(0.7,-80),(0.8,-75),(1.0,-60),(1.16,-35),(1.2,-70),(1.5,-95),(2,-100),(3,-105)]
VL_RN = [(2,-120,-100),(3,-130,-102),(5,-135,-104),(8,-140,-106),(12,-142,-105),(19.4,-140,-100)]
VL_B = [(0.0085,-73),(0.015,-72),(0.02,-80),(0.025,-98),(0.03,-85),(0.04,-75),(0.05,-78),(0.06,-85),(0.07,-90),(0.087,-100),(0.1,-85),(0.12,-90),(0.15,-80),(0.2,-85),(0.25,-95),(0.3,-80),(0.4,-90),(0.45,-65),(0.5,-45),(0.55,-35),(0.6,-55),(0.7,-85),(0.78,-100),(1.0,-70),(1.15,-40),(1.3,-80),(1.5,-100),(2,-110)]
VL_BN = [(2,-130,-100),(3,-138,-102),(5,-145,-104),(8,-150,-106),(12,-148,-104),(19.4,-140,-100)]

VP_R = [(0.0085,-33),(0.15,-33),(0.2,-30),(0.23,-25),(0.26,-15),(0.3,-25),(0.35,-35),(0.38,-48),(0.4,-30),(0.45,-25),(0.5,-15),(0.56,-12),(0.6,-25),(0.7,-30),(0.8,-37),(1.0,-42),(1.5,-50),(2,-57),(3,-65),(4,-70),(5,-75),(7,-80),(10,-85),None,(11.8,-85),(12,-60),(12.2,-85)]
VP_RN = [(10,-95,-80),(13,-100,-80),(16,-105,-82),(19.4,-102,-80)]
VP_B = [(0.0085,-40),(0.015,-41),(0.03,-42),(0.037,-45),(0.05,-43),(0.07,-42),(0.1,-43),(0.15,-41),(0.2,-40),(0.25,-38),(0.3,-35),(0.35,-45),(0.4,-28),(0.45,-20),(0.5,-8),(0.55,-15),(0.6,-25),(0.7,-40),(0.8,-45),(1.0,-50),(1.5,-57),(2,-63),(3,-70),(4.2,-75),(4.3,-35),(4.4,-75),(4.6,-95)]
VP_BN = [(4.6,-110,-88),(7,-115,-88),(10,-120,-90),(14,-125,-88),(19.4,-118,-86)]

VV_PH_R = [(0.0085,0),(0.04,2),(0.045,5),(0.05,2),(0.08,-2),(0.1,-5),(0.12,-2),(0.2,0),(0.25,-10),(0.28,-40),(0.29,30),(0.3,-20),(0.32,-120),(0.32,130),(0.33,-30),(0.35,40),(0.36,-60),(0.38,-10),(0.45,-15),(0.55,-10),(0.6,-20),(0.62,-100),(0.63,-185),(1.14,-185),(1.14,180),(1.15,-185),(1.3,-185),(1.3,178),(3,176),(6,170),(8.8,165),(10.5,163)]
VV_PH_RN = [(10.5,-185,178),(19.4,-185,178)]
VV_PH_B = [(0.0085,-3),(0.2,-1),(0.28,-5),(0.29,-80),(0.3,0),(0.4,-10),(0.5,-10),(0.6,-15),(0.62,-120),(0.63,-185),(1.14,-185),(1.14,180),(1.2,178),(1.2,-185),(1.25,178),(1.55,178),(1.55,-185),(1.6,178),(8,165),(10,163),(14,160)]
VV_PH_BN = [(14,-185,178),(18,-185,178)]

VT_R = [(0.0085,-70),(0.012,-73),(0.015,-75),(0.02,-78),(0.03,-80),(0.04,-82),(0.049,-87),(0.064,-95),(0.07,-85),(0.08,-90),(0.1,-88),(0.12,-80),(0.13,-95),(0.15,-80),(0.18,-75),(0.2,-78),(0.25,-70),(0.3,-58),(0.35,-78),(0.4,-60),(0.45,-50),(0.5,-40),(0.59,-22),(0.63,-50),(0.7,-75),(0.86,-95),(0.9,-70),(1.0,-60),(1.14,-63),(1.2,-70),(1.3,-80),(1.5,-90),(2,-100),(3,-108)]
VT_RN = [(3,-125,-105),(5,-132,-106),(8,-138,-108),(12,-140,-106),(19.4,-138,-104)]
VT_B = [(0.0085,-60),(0.012,-63),(0.015,-66),(0.02,-70),(0.03,-78),(0.04,-80),(0.045,-83),(0.049,-67),(0.055,-78),(0.07,-80),(0.08,-75),(0.1,-82),(0.12,-78),(0.15,-80),(0.2,-82),(0.25,-72),(0.3,-65),(0.35,-55),(0.4,-60),(0.45,-50),(0.5,-35),(0.55,-30),(0.6,-40),(0.7,-60),(0.8,-78),(0.9,-75),(1.0,-70),(1.16,-40),(1.2,-70),(1.5,-90),(2,-100),(3,-110)]
VT_BN = [(3,-128,-102),(5,-138,-104),(8,-142,-106),(12,-140,-104),(19.4,-135,-100)]

VY_R = [(0.0085,-43),(0.02,-44),(0.03,-43),(0.05,-41),(0.07,-43),(0.1,-42),(0.12,-38),(0.15,-30),(0.17,-20),(0.2,-30),(0.25,-45),(0.3,-55),(0.35,-58),(0.4,-55),(0.45,-65),(0.5,-45),(0.55,-50),(0.62,-18),(0.65,-55),(0.7,-60),(0.8,-75),(0.9,-60),(1.0,-40),(1.1,-40),(1.2,-55),(1.5,-70),(2,-78),(3,-85),(4,-90)]
VY_RN = [(4,-105,-88),(6,-110,-90),(9,-115,-92),(13,-118,-92),(19.4,-115,-90)]
VY_B = [(0.0085,-43),(0.02,-42),(0.03,-40),(0.047,-39),(0.05,-40),(0.07,-42),(0.1,-40),(0.15,-30),(0.17,-22),(0.2,-30),(0.25,-48),(0.28,-55),(0.3,-43),(0.35,-60),(0.4,-55),(0.5,-40),(0.55,-35),(0.6,-55),(0.7,-60),(0.8,-45),(0.9,-50),(0.98,-50),(1.0,-10),(1.02,-45),(1.1,-40),(1.2,-50),(1.5,-65),(2,-75),(3,-85),(4,-88)]
VY_BN = [(4,-108,-86),(6,-112,-88),(9,-118,-90),(13,-120,-90),(19.4,-118,-88)]

VV_COH_R = [(0.0085,0.98),(0.02,0.99),(0.04,1),(0.041,0.95),(0.043,1),(0.19,1),(0.2,0.93),(0.21,1),(0.22,0.75),(0.23,1),(0.24,0.65),(0.25,1),(0.26,0.3),(0.27,1),(0.29,0.25),(0.3,1),(0.32,0.15),(0.33,1),(0.35,0.2),(0.36,1),(0.38,0.15),(0.39,1),(0.44,0.6),(0.45,1),(0.51,0.9),(0.52,1),(0.58,0.75),(0.59,1),(0.62,0.9),(0.63,1),(8.5,1)]
VV_COH_RN = [(8.5,0.92,1),(9.5,0.5,1),(10.5,0.0,1),(12,0.2,1),(14,0.3,1),(16,0.5,1),(18,0.6,1),(19.4,0.8,0.98)]
VV_COH_B = [(0.0085,0.97),(0.02,0.99),(0.05,1),(0.19,1),(0.2,0.8),(0.21,1),(0.235,1),(0.24,0.5),(0.25,1),(0.27,1),(0.28,0.15),(0.29,1),(0.31,1),(0.32,0.2),(0.33,1),(0.35,1),(0.36,0.5),(0.37,1),(0.41,1),(0.42,0.75),(0.43,1),(0.61,1),(0.62,0.95),(0.63,1),(1.13,1),(1.14,0.9),(1.15,1),(10,1)]
VV_COH_BN = [(10,0.9,1),(12,0.5,1),(13.5,0.0,1),(15,0.05,1),(17,0.1,1),(19,0.4,1),(19.4,0.8,1)]

VR_R = [(0.0085,-40),(0.03,-42),(0.05,-42),(0.07,-41),(0.1,-41),(0.12,-42),(0.15,-43),(0.2,-42),(0.25,-38),(0.28,-24),(0.3,-40),(0.35,-35),(0.4,-30),(0.5,-20),(0.55,-25),(0.6,-40),(0.7,-48),(0.8,-50),(1.0,-55),(1.5,-62),(2,-68),(3,-76),(4,-82),(5,-87),(6,-90),(8,-95)]
VR_RN = [(8,-105,-88),(11,-110,-88),(14,-115,-90),(17,-112,-88),(19.4,-110,-88)]
VR_B = [(0.0085,-40),(0.012,-43),(0.015,-46),(0.02,-49),(0.025,-50),(0.03,-50),(0.04,-47),(0.05,-50),(0.06,-55),(0.07,-57),(0.08,-55),(0.1,-57),(0.12,-53),(0.15,-55),(0.2,-50),(0.25,-45),(0.3,-55),(0.35,-60),(0.4,-45),(0.45,-30),(0.5,-1),(0.55,-30),(0.6,-15),(0.65,-40),(0.7,-55),(0.8,-65),(1.0,-70),(1.5,-90),(2,-95)]
VR_BN = [(1.5,-105,-85),(3,-112,-88),(5,-118,-90),(8,-120,-92),(12,-118,-90),(19.4,-112,-88)]

# Y excitation
YY_MAG_R = [(0.0085,-7),(0.02,-6),(0.05,-6),(0.1,-5),(0.12,-2),(0.14,5),(0.158,18),(0.18,5),(0.2,-5),(0.25,-10),(0.3,-18),(0.35,-22),(0.4,-27),(0.45,-35),(0.5,-45),(0.6,-60),(0.65,-40),(0.7,-35),(0.8,-25),(0.93,-14),(1.0,-30),(1.2,-27),(1.34,-28),(1.36,9),(1.38,-62),(1.4,-30),(1.5,-35),(2,-40),(3,-47),(5,-55),(7,-62),(10,-70)]
YY_MAG_RN = [(10,-80,-65),(13,-88,-66),(16,-95,-67),(18,-110,-68),(19.4,-100,-66)]
YY_MAG_B = [(0.0085,-2),(0.1,-2),(0.12,0),(0.14,8),(0.16,20),(0.18,8),(0.2,0),(0.25,-5),(0.3,-12),(0.4,-22),(0.5,-35),(0.58,-50),(0.65,-35),(0.7,-30),(0.8,-20),(0.92,-8),(1.0,-20),(1.2,-25),(1.5,-32),(2,-38),(3,-45),(5,-53),(7,-60),(10,-68)]
YY_MAG_BN = [(10,-78,-62),(13,-85,-63),(16,-90,-64),(19.4,-88,-62)]

YL_R = [(0.0085,-53),(0.05,-53),(0.07,-52),(0.1,-50),(0.12,-48),(0.14,-40),(0.15,-30),(0.17,-40),(0.2,-50),(0.25,-60),(0.3,-65),(0.35,-70),(0.4,-50),(0.45,-55),(0.5,-30),(0.55,-60),(0.64,-24),(0.68,-70),(0.74,-40),(0.8,-22),(0.85,-60),(0.9,-40),(1.0,-55),(1.14,-28),(1.2,-65),(1.3,-80),(1.5,-85),(2,-90),(3,-92),None,(4.3,-95),(4.44,-45),(4.6,-95)]
YL_RN = [(3,-105,-85),(5,-110,-88),(8,-115,-90),(12,-118,-88),(19.4,-112,-85)]
YL_B = [(0.0085,-57),(0.012,-55),(0.015,-53),(0.02,-53),(0.03,-54),(0.057,-57),(0.07,-55),(0.1,-50),(0.12,-45),(0.15,-35),(0.17,-45),(0.2,-50),(0.25,-60),(0.3,-80),(0.35,-75),(0.38,-92),(0.45,-65),(0.5,-55),(0.55,-75),(0.6,-40),(0.7,-55),(0.8,-45),(1.0,-60),(1.2,-70),(1.4,-85),(1.6,-95),(2,-100)]
YL_BN = [(1.6,-112,-85),(3,-122,-88),(5,-130,-90),(8,-132,-92),(12,-128,-88),(19.4,-120,-85)]

YP_R = [(0.0085,-30),(0.012,-33),(0.015,-38),(0.02,-43),(0.03,-45),(0.04,-47),(0.05,-55),(0.06,-42),(0.07,-45),(0.08,-42),(0.1,-40),(0.15,-38),(0.2,-35),(0.25,-25),(0.3,-15),(0.35,-25),(0.4,-10),(0.5,-30),(0.55,-15),(0.6,-5),(0.65,-25),(0.7,-40),(0.8,-30),(0.89,4),(0.95,-40),(1.0,-45),(1.2,-55),(1.5,-70)]
YP_RN = [(1.4,-88,-65),(2.5,-90,-68),(4,-92,-70),(7,-95,-72),(12,-95,-70),(19.4,-92,-68)]
YP_B = [(0.0085,-45),(0.015,-47),(0.02,-46),(0.03,-42),(0.04,-40),(0.05,-44),(0.07,-42),(0.1,-40),(0.12,-35),(0.15,-25),(0.17,-35),(0.2,-40),(0.25,-30),(0.3,-35),(0.35,-50),(0.4,-35),(0.45,-25),(0.5,-45),(0.55,-20),(0.6,-50),(0.7,-45),(0.8,-55),(1.0,-50),(1.2,-65),(1.5,-75)]
YP_BN = [(1.4,-92,-70),(2.5,-95,-72),(4,-98,-74),(7,-100,-75),(12,-102,-72),(19.4,-98,-70)]

YY_PH_R = [(0.0085,0),(0.02,-3),(0.1,-3),(0.14,0),(0.146,-5),(0.15,-10),(0.16,-40),(0.17,-90),(0.177,-150),(0.18,-185),(0.45,-185),(0.45,178),(0.46,-185),(0.48,-185),(0.48,178),(0.49,-185),(0.55,-185),(0.55,178),(0.56,0),(1.03,0),None,(1.35,178),(4.2,172),(4.2,-185),(4.22,172),(6.9,168),(6.9,-185),(6.95,168),(8,166),(8,-185),(8.05,166),(9.7,164),(9.7,-185),(9.75,164),(10.5,163)]
YY_PH_RN = [(1.03,-185,178),(1.35,-185,178),None,(10.5,-185,178),(19.4,-185,178)]
YY_PH_B = [(0.0085,0),(0.02,-3),(0.1,-3),(0.14,0),(0.15,-10),(0.17,-90),(0.18,-185),(0.22,-185),(0.22,178),(0.225,-185),(0.3,-185),(0.3,178),(0.305,-185),(0.36,-185),(0.36,178),(0.365,-185),(0.43,-185),(0.43,178),(0.44,-185),(0.55,-185),(0.56,0),(1.03,0),(1.05,178),(3,174),(6,170),(10,165),(15,160),(19.4,155)]

YT_R = [(0.0085,-57),(0.02,-56),(0.03,-55),(0.05,-54),(0.07,-53),(0.1,-52),(0.12,-50),(0.14,-45),(0.15,-32),(0.17,-40),(0.2,-50),(0.25,-55),(0.3,-65),(0.35,-62),(0.4,-55),(0.45,-40),(0.5,-50),(0.55,-45),(0.6,-65),(0.65,-40),(0.7,-55),(0.8,-45),(0.9,-40),(1.1,-24),(1.15,-45),(1.2,-65),(1.4,-85),(1.6,-95),None,(4.3,-100),(4.4,-48),(4.5,-100)]
YT_RN = [(1.5,-110,-92),(3,-118,-95),(5,-122,-96),(8,-125,-96),(12,-122,-95),(19.4,-118,-92)]
YT_B = [(0.0085,-57),(0.015,-58),(0.02,-57),(0.027,-65),(0.03,-58),(0.04,-60),(0.05,-63),(0.07,-60),(0.08,-62),(0.11,-70),(0.12,-60),(0.15,-62),(0.17,-55),(0.2,-65),(0.23,-77),(0.25,-65),(0.3,-70),(0.35,-55),(0.4,-65),(0.45,-82),(0.5,-45),(0.6,-17),(0.63,-50),(0.7,-55),(0.8,-45),(0.9,-60),(1.0,-45),(1.1,-30),(1.2,-60),(1.4,-80),(1.6,-90),(2,-95)]
YT_BN = [(1.6,-105,-88),(3,-115,-90),(5,-118,-92),(8,-120,-92),(12,-118,-90),(19.4,-115,-88)]

YY_COH_R = [(0.0085,0.99),(0.02,1),(0.135,1),(0.14,0.8),(0.145,1),(0.15,1),(0.155,0.7),(0.16,1),(0.165,1),(0.17,0.9),(0.175,1),(0.2,1),(0.21,0.95),(0.22,1),(0.54,1),(0.55,0.1),(0.56,1),(0.59,1),(0.6,0.05),(0.61,1),(0.66,1),(0.67,0.0),(0.68,1),(0.73,1),(0.74,0.0),(0.75,1),(0.98,1),(0.99,0.0),(1.0,1),(1.06,1),(1.07,0.6),(1.08,1),(1.35,1),(1.36,0.0),(1.37,1),(4.4,1)]
YY_COH_RN = [(4.4,0.92,1),(6,0.75,1),(8,0.5,1),(9,0.75,1),(10,0.4,1),(11,0.1,1),(13,0.0,1),(19.4,0.0,1)]
YY_COH_B = [(0.0085,0.98),(0.02,0.98),(0.03,1),(0.125,1),(0.13,0.93),(0.135,1),(0.145,1),(0.15,0.85),(0.155,1),(0.16,0.9),(0.165,1),(0.52,1),(0.53,0.2),(0.54,1),(0.57,1),(0.58,0.08),(0.59,1),(1.09,1),(1.1,0.1),(1.11,1),(6.8,1),(6.9,0.75),(7.0,1),(7.9,1),(8,0.5),(8.1,1)]
YY_COH_BN = [(6.5,0.9,1),(9,0.8,1),(11,0.7,1),(13,0.5,1),(15,0.3,1),(17,0.7,1),(19.4,0.9,1)]

YV_R = [(0.0085,-55),(0.012,-57),(0.015,-58),(0.02,-60),(0.03,-62),(0.06,-63),(0.064,-68),(0.07,-65),(0.08,-62),(0.1,-73),(0.12,-60),(0.15,-55),(0.2,-48),(0.25,-55),(0.3,-18),(0.35,-40),(0.4,-50),(0.5,-40),(0.55,-55),(0.6,-60),(0.65,-40),(0.7,-60),(0.8,-75),(0.88,-80),(0.9,-17),(0.92,-80),(1.0,-85),(1.2,-90),(1.5,-100),None,(4.3,-110),(4.4,-20),(4.5,-110)]
YV_RN = [(1.5,-118,-95),(3,-125,-98),(5,-128,-100),(8,-130,-100),(12,-128,-98),(19.4,-125,-95)]
YV_B = [(0.0085,-60),(0.012,-61),(0.03,-62),(0.04,-60),(0.043,-55),(0.06,-60),(0.07,-65),(0.08,-60),(0.1,-58),(0.12,-55),(0.15,-50),(0.17,-45),(0.2,-40),(0.25,-35),(0.3,-17),(0.32,-28),(0.35,-40),(0.4,-45),(0.5,-50),(0.6,-65),(0.7,-70),(0.8,-80),(1.0,-85),(1.5,-100)]
YV_BN = [(1.5,-115,-92),(3,-120,-95),(5,-125,-96),(8,-128,-96),(12,-125,-90),(19.4,-120,-88)]

YR_R = [(0.0085,-35),(0.012,-38),(0.015,-40),(0.02,-42),(0.03,-45),(0.04,-48),(0.05,-47),(0.06,-48),(0.07,-45),(0.08,-42),(0.1,-45),(0.12,-47),(0.14,-42),(0.15,-35),(0.19,-45),(0.2,-40),(0.25,-25),(0.3,-35),(0.35,-20),(0.4,-30),(0.45,-15),(0.5,-25),(0.55,-10),(0.6,-30),(0.65,-10),(0.7,-35),(0.8,-30),(0.9,-10),(1.0,-40),(1.2,-55),(1.5,-70)]
YR_RN = [(1.5,-90,-68),(3,-95,-70),(5,-98,-72),(8,-100,-72),(12,-98,-70),(19.4,-95,-68)]
YR_B = [(0.0085,-35),(0.02,-34),(0.03,-33),(0.04,-37),(0.06,-34),(0.07,-33),(0.1,-30),(0.12,-25),(0.15,-11),(0.17,-25),(0.2,-35),(0.25,-40),(0.33,-66),(0.35,-45),(0.4,-55),(0.45,-35),(0.5,-40),(0.6,-35),(0.7,-50),(0.8,-30),(0.9,-45),(1.0,-60),(1.2,-70),(1.5,-75)]
YR_BN = [(1.5,-95,-72),(3,-100,-74),(5,-102,-75),(8,-104,-75),(12,-102,-72),(19.4,-98,-70)]

T0 = {"L": "24/04/2026 10:05:39.234375", "P": "24/04/2026 10:24:08",
      "R": "24/04/2026 10:19:32.234375", "T": "24/04/2026 10:10:22",
      "V": "24/04/2026 10:14:57.21875", "Y": "24/04/2026 10:28:43.203125"}
REF = {"L": 0, "T": 1, "V": 2, "R": 3, "P": 4, "Y": 5}

PH_LIM = (-215, 218)
COH_LIM = (-0.004, 1.007)

# grid of panels, row by row: (excitation, response, kind, red, blue, red band, blue band, y range)
PANELS = [
    [("L","L","Magnitude",LL_MAG_R,LL_MAG_B,LL_MAG_RN,LL_MAG_BN,(-160,-15.8)),
     ("L","L","",LL_MAG_R,LL_MAG_B,LL_MAG_RN,LL_MAG_BN,(-160,-15.8)),
     ("L","P","",LP_R,LP_B,LP_RN,LP_BN,(-150,2))],
    [("L","L","Phase",LL_PH_R,LL_PH_B,LL_PH_RN,LL_PH_BN,PH_LIM),
     ("L","T","",LT_R,LT_B,LT_RN,LT_BN,(-189,-22.5)),
     ("L","Y","",LY_R,LY_B,LY_RN,LY_BN,(-138,-15.6))],
    [("L","L","Coherence",LL_COH_R,LL_COH_B,LL_COH_RN,LL_COH_BN,COH_LIM),
     ("L","V","",LV_R,LV_B,LV_RN,LV_BN,(-180,-22.5)),
     ("L","R","",LR_R,LR_B,LR_RN,LR_BN,(-148,-19))],
    [("P","P","Magnitude",PP_MAG_R,PP_MAG_B,None,None,(-90,36.5)),
     ("P","L","",PL_R,PL_B,PL_RN,PL_BN,(-156,8.2)),
     ("P","P","",PP_MAG_R,PP_MAG_B,None,None,(-90,36.5))],
    [("P","P","Phase",PP_PH_R,PP_PH_B,None,None,PH_LIM),
     ("P","T","",PT_R,PT_B,PT_RN,PT_BN,(-144.4,2)),
     ("P","Y","",PY_R,PY_B,PY_RN,PY_BN,(-134,7))],
    [("P","P","Coherence",PP_COH_R,PP_COH_B,None,None,COH_LIM),
     ("P","V","",PV_R,PV_B,None,PV_BN,(-138,-2)),
     ("P","R","",PR_R,PR_B,PR_RN,PR_BN,(-136.5,29))],
    [("R","R","Magnitude",RR_MAG_R,RR_MAG_B,RR_MAG_RN,RR_MAG_BN,(-108,35)),
     ("R","L","",RL_R,RL_B,RL_RN,RL_BN,(-141.5,-5)),
     ("R","P","",RP_R,RP_B,RP_RN,RP_BN,(-132,28))],
    [("R","R","Phase",RR_PH_R,RR_PH_B,RR_PH_RN,RR_PH_BN,PH_LIM),
     ("R","T","",RT_R,RT_B,RT_RN,RT_BN,(-148,6)),
     ("R","Y","",RY_R,RY_B,RY_RN,RY_BN,(-118.7,9))],
    [("R","R","Coherence",RR_COH_R,RR_COH_B,RR_COH_RN,RR_COH_BN,COH_LIM),
     ("R","V","",RV_R,RV_B,RV_RN,RV_BN,(-140.5,-4)),
     ("R","R","",RR_MAG_R,RR_MAG_B,RR_MAG_RN,RR_MAG_BN,(-108,35))],
    [("T","T","Magnitude",TT_MAG_R,TT_MAG_B,TT_MAG_RN,TT_MAG_BN,(-171,-14.3)),
     ("T","L","",TL_R,TL_B,TL_RN,TL_BN,(-167,-25)),
     ("T","P","",TP_R,TP_B,TP_RN,TP_BN,(-150,-15))],
    [("T","T","Phase",TT_PH_R,TT_PH_B,TT_PH_RN,None,PH_LIM),
     ("T","T","",TT_MAG_R,TT_MAG_B,TT_MAG_RN,TT_MAG_BN,(-172.6,-14)),
     ("T","Y","",TY_R,TY_B,TY_RN,TY_BN,(-147.5,-10.6))],
    [("T","T","Coherence",TT_COH_R,TT_COH_B,TT_COH_RN,TT_COH_BN,COH_LIM),
     ("T","V","",TV_R,TV_B,TV_RN,TV_BN,(-171.7,-26.7)),
     ("T","R","",TR_R,TR_B,TR_RN,TR_BN,(-147.6,-17))],
    [("V","V","Magnitude",VV_MAG_R,VV_MAG_B,VV_MAG_RN,VV_MAG_BN,(-149.7,-9)),
     ("V","L","",VL_R,VL_B,VL_RN,VL_BN,(-177,-15)),
     ("V","P","",VP_R,VP_B,VP_RN,VP_BN,(-136.8,4.3))],
    [("V","V","Phase",VV_PH_R,VV_PH_B,VV_PH_RN,VV_PH_BN,PH_LIM),
     ("V","T","",VT_R,VT_B,VT_RN,VT_BN,(-163,-3.8)),
     ("V","Y","",VY_R,VY_B,VY_RN,VY_BN,(-139,-0.8))],
    [("V","V","Coherence",VV_COH_R,VV_COH_B,VV_COH_RN,VV_COH_BN,COH_LIM),
     ("V","V","",VV_MAG_R,VV_MAG_B,VV_MAG_RN,VV_MAG_BN,(-149.8,-8.3)),
     ("V","R","",VR_R,VR_B,VR_RN,VR_BN,(-145.3,14))],
    [("Y","Y","Magnitude",YY_MAG_R,YY_MAG_B,YY_MAG_RN,YY_MAG_BN,(-131,33.6)),
     ("Y","L","",YL_R,YL_B,YL_RN,YL_BN,(-152,-11.5)),
     ("Y","P","",YP_R,YP_B,YP_RN,YP_BN,(-126.6,31.8))],
    [("Y","Y","Phase",YY_PH_R,YY_PH_B,YY_PH_RN,None,PH_LIM),
     ("Y","T","",YT_R,YT_B,YT_RN,YT_BN,(-153.4,-4)),
     ("Y","Y","",YY_MAG_R,YY_MAG_B,YY_MAG_RN,YY_MAG_BN,(-131,33.6))],
    [("Y","Y","Coherence",YY_COH_R,YY_COH_B,YY_COH_RN,YY_COH_BN,COH_LIM),
     ("Y","V","",YV_R,YV_B,YV_RN,YV_BN,(-154,-3)),
     ("Y","R","",YR_R,YR_B,YR_RN,YR_BN,(-138.6,12.5))],
]

# ---------------------------------------------------------------- layout (pixels)
W, H = 1064, 3888
COL_X = [0, 362, 724]
ROW_Y0, ROW_PITCH = 1.5, 215.3
PANEL_W, PANEL_H = 337, 208
RED, BLUE = "#ff0000", "#0000ff"
XLIM = (0.0077, 22)


def fx(px):
    return px / W


def fy(py):
    return 1 - py / H


def pieces(pts):
    seg = []
    for p in pts:
        if p is None:
            if seg:
                yield seg
            seg = []
        else:
            seg.append(p)
    if seg:
        yield seg


def y_ticks(kind, ylim):
    if kind == "Phase":
        vals = list(range(-200, 201, 50))
        return vals, [str(v) for v in vals]
    if kind == "Coherence":
        vals = [i / 10 for i in range(11)]
        return vals, ["0"] + [f"{v:.1f}" for v in vals[1:-1]] + ["1"]
    lo = int(np.ceil(ylim[0] / 20.0) * 20)
    vals = list(range(lo, int(np.floor(ylim[1])) + 1, 20))
    return vals, [str(v) for v in vals]


def draw_panel(fig, row, col, spec):
    src, out, kind, red, blue, rband, bband, ylim = spec
    kind_eff = kind if kind else "Magnitude"
    x0 = COL_X[col]
    y0 = ROW_Y0 + ROW_PITCH * row

    fig.add_artist(Rectangle((fx(x0), fy(y0 + PANEL_H)), PANEL_W / W, PANEL_H / H,
                             transform=fig.transFigure, fc="white", ec="#a4a4a4", lw=0.6, zorder=0))
    if col > 0:
        for i, glyph in enumerate(["\u25b6", "\u25b2"]):
            bx, by = x0 - 18, y0 + 3 + 16 * i
            fig.add_artist(Rectangle((fx(bx), fy(by + 13)), 15 / W, 13 / H, transform=fig.transFigure,
                                     fc="#e0e0e0", ec="#a0a0a0", lw=0.6, zorder=1))
            fig.text(fx(bx + 7.5), fy(by + 6.5), glyph, ha="center", va="center",
                     fontsize=4, family="DejaVu Sans", zorder=2)

    # title box with shadow
    title = f"{src}-> {out}" + (f" [{kind}]" if kind else "")
    tx, ty = fx(x0 + 7), fy(y0 + 10.5)
    fig.text(tx + 1.6 / W, ty - 1.6 / H, title, fontsize=6.6, va="center", color="k", zorder=3,
             bbox=dict(boxstyle="square,pad=0.28", fc="k", ec="k", lw=0.8))
    fig.text(tx, ty, title, fontsize=6.6, va="center", color="k", zorder=4,
             bbox=dict(boxstyle="square,pad=0.28", fc="white", ec="k", lw=0.8))

    ax = fig.add_axes([fx(x0 + 35), fy(y0 + 173), 284 / W, 149 / H])
    ax.set_xscale("log")
    ax.set_xlim(*XLIM)
    ax.set_ylim(*ylim)

    for pts, band, color in ((blue, bband, BLUE), (red, rband, RED)):
        if band:
            for seg in pieces(band):
                f, lo, hi = zip(*seg)
                ax.fill_between(f, lo, hi, color=color, lw=0, zorder=2)
        for seg in pieces(pts):
            f, v = zip(*seg)
            ax.plot(f, v, color=color, lw=0.8, zorder=3)

    # ticks and grid
    ax.xaxis.set_major_locator(FixedLocator([0.01, 0.1, 1, 10]))
    ax.xaxis.set_major_formatter(FixedFormatter([r"$\mathbf{10^{-2}}$", r"$\mathbf{10^{-1}}$", "1", "10"]))
    ax.xaxis.set_minor_locator(FixedLocator([m * 10.0 ** e for e in range(-3, 2) for m in range(2, 10)]))
    ax.xaxis.set_minor_formatter(NullFormatter())
    vals, labels = y_ticks(kind_eff, ylim)
    ax.yaxis.set_major_locator(FixedLocator(vals))
    ax.yaxis.set_major_formatter(FixedFormatter(labels))
    ax.yaxis.set_minor_locator(AutoMinorLocator(5 if kind_eff == "Phase" else (2 if kind_eff == "Coherence" else 4)))
    ax.tick_params(which="both", direction="in", top=True, right=True, width=0.5, labelsize=4.8, pad=1.6)
    ax.tick_params(axis="y", which="major", length=5)
    ax.tick_params(axis="y", which="minor", length=2.5)
    ax.tick_params(axis="x", which="major", length=3.5)
    ax.tick_params(axis="x", which="minor", length=2)
    for lab in ax.get_xticklabels() + ax.get_yticklabels():
        lab.set_fontweight("bold")
    grid_style = dict(color="k", ls=(0, (1, 2.6)), lw=0.55)
    ax.grid(True, which="major", axis="y", **grid_style)
    ax.grid(True, which="both", axis="x", **grid_style)
    ax.set_axisbelow(False)
    for s in ax.spines.values():
        s.set_linewidth(0.7)

    # legend box
    n = REF[out]
    sep = ":" if (src == "L" and out == "L") else "/"
    lab_r = f"K1:VIS-SRM_IM_DAMP_{out}_IN1_DQ {sep} K1:VIS-SRM_IM_TEST_{src}_IN2"
    lab_b = f"K1:VIS-SRM_IM_DAMP_{out}_IN1_DQ(REF{n}) {sep} K1:VIS-SRM_IM_TEST_{src}_IN2(REF{n})"
    ax.add_patch(Rectangle((0.039, 0.0), 0.894, 0.127, transform=ax.transAxes,
                           fc="k", ec="none", zorder=8))
    ax.add_patch(Rectangle((0.0246, 0.0336), 0.894, 0.127, transform=ax.transAxes,
                           fc="white", ec="k", lw=0.6, zorder=9))
    for yy, color, lab in ((0.125, RED, lab_r), (0.069, BLUE, lab_b)):
        ax.plot([0.053, 0.211], [yy, yy], color=color, lw=0.9, transform=ax.transAxes, zorder=10)
        ax.text(0.239, yy, lab, transform=ax.transAxes, fontsize=3.5, va="center", zorder=10)

    # axis titles
    ylabel = {"Magnitude": "Magnitude (dB)", "Phase": "Phase (deg)", "Coherence": "Coherence"}[kind_eff]
    fig.text(fx(x0 + 11), fy(y0 + 99), ylabel, rotation=90, ha="center", va="center",
             fontsize=5.8, fontweight="bold")
    fig.text(fx(x0 + 177), fy(y0 + 192), "Frequency (Hz)", ha="center", va="center",
             fontsize=5.8, fontweight="bold")

    # footer
    fy_f = fy(y0 + 204)
    fig.text(fx(x0 + 7), fy_f, "*T0=" + T0[src], color=RED, fontsize=5.6, fontweight="bold", va="center")
    fig.text(fx(x0 + 157), fy_f, "Avg=3", color="k", fontsize=5.6, fontweight="bold", va="center")
    if kind_eff == "Coherence":
        fig.text(fx(x0 + 330), fy_f, "BW=0.0117187", color="k", fontsize=5.6, fontweight="bold",
                 va="center", ha="right")
    else:
        fig.text(fx(x0 + 330), fy_f, "*BW=0.0117187", color=RED, fontsize=5.6, fontweight="bold",
                 va="center", ha="right")


fig = plt.figure(figsize=(W / 100, H / 100), dpi=100, facecolor="#e6e6e6")
fig.add_artist(Rectangle((0, 0), 1, fx(0) + 17 / H, transform=fig.transFigure, fc="white", ec="none", zorder=0))
for r, row_specs in enumerate(PANELS):
    for c, spec in enumerate(row_specs):
        draw_panel(fig, r, c, spec)

fig.savefig("out.png", dpi=100, facecolor=fig.get_facecolor())
